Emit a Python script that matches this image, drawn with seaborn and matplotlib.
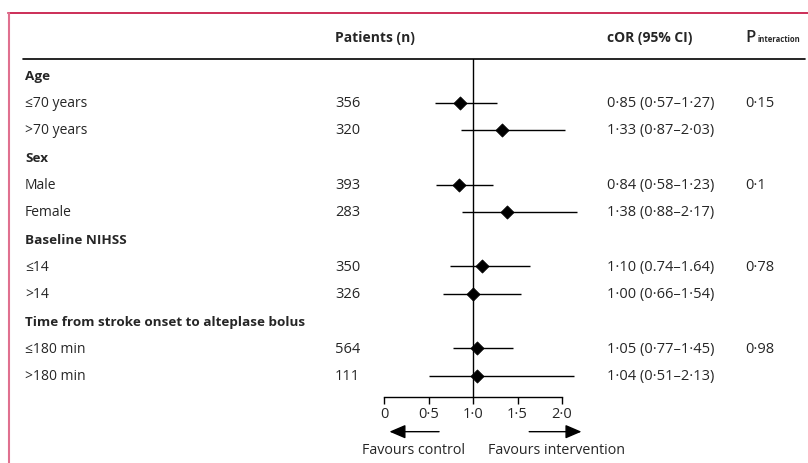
import numpy as np
import pandas as pd
import seaborn as sns
import matplotlib.pyplot as plt
from matplotlib.lines import Line2D
from matplotlib.transforms import blended_transform_factory

# data
groups = ["Age", "Sex", "Baseline NIHSS", "Time from stroke onset to alteplase bolus"]
subgroups = ["≤70 years", ">70 years", "Male", "Female", "≤14", ">14", "≤180 min", ">180 min"]
patients = [356, 320, 393, 283, 350, 326, 564, 111]
cor = [0.85, 1.33, 0.84, 1.38, 1.10, 1.00, 1.05, 1.04]
ci_low = [0.57, 0.87, 0.58, 0.88, 0.74, 0.66, 0.77, 0.51]
ci_high = [1.27, 2.03, 1.23, 2.17, 1.64, 1.54, 1.45, 2.13]
cor_text = ["0·85 (0·57–1·27)", "1·33 (0·87–2·03)", "0·84 (0·58–1·23)", "1·38 (0·88–2·17)",
            "1·10 (0.74–1.64)", "1·00 (0·66–1·54)", "1·05 (0·77–1·45)", "1·04 (0·51–2·13)"]
p_interaction = ["0·15", "0·1", "0·78", "0·98"]
tick_values = [0, 0.5, 1.0, 1.5, 2.0]
tick_labels = ["0", "0·5", "1·0", "1·5", "2·0"]

sns.set_theme(style="white")
plt.rcParams["font.family"] = ["Open Sans", "DejaVu Sans"]
FS = 10       # row labels
FS_B = 9.7    # bold headings
FS_NUM = 10.5 # numbers

group_rows = [3 * g for g in range(len(groups))]
sub_rows = [3 * (i // 2) + 1 + i % 2 for i in range(len(subgroups))]
df = pd.DataFrame({"label": subgroups, "row": sub_rows, "n": patients, "cor": cor,
                   "lo": ci_low, "hi": ci_high, "txt": cor_text})

W, H = 808, 464
fig = plt.figure(figsize=(W / 100, H / 100), dpi=100)
ax = fig.add_axes([370 / W, 1 - 398 / H, 230 / W, (398 - 60) / H])

ax.hlines(df["row"], df["lo"], df["hi"], color="black", lw=1.0, zorder=2)
sns.scatterplot(data=df, x="cor", y="row", marker="D", color="black", edgecolor="black",
                s=45, ax=ax, zorder=3, legend=False)
ax.axvline(1, color="black", lw=1.0, zorder=1)

ax.set_xlim(-(384 - 370) / 89, (600 - 384) / 89)
ax.set_ylim(11.78, -0.6)
ax.set_yticks([])
ax.set_xlabel("")
ax.set_ylabel("")
for s in ["left", "top", "right"]:
    ax.spines[s].set_visible(False)
ax.spines["bottom"].set_bounds(0, 2)
ax.spines["bottom"].set_color("black")
ax.spines["bottom"].set_linewidth(1.0)
ax.set_xticks(tick_values)
ax.set_xticklabels(tick_labels, fontsize=FS_NUM)
ax.tick_params(axis="x", direction="out", length=5, width=1.0, color="black", pad=1.5,
               bottom=True)

tr = blended_transform_factory(fig.transFigure, ax.transData)
x_lab, x_n, x_cor, x_p = 25 / W, 335 / W, 607 / W, 745 / W

# header
ax.text(x_n, -1.4, "Patients (n)", transform=tr, fontsize=FS, fontweight="bold", va="center")
ax.text(x_cor, -1.4, "cOR (95% CI)", transform=tr, fontsize=FS, fontweight="bold", va="center")
ax.text(x_p, -1.42, "P", transform=tr, fontsize=12, fontweight="semibold", va="center")
ax.text(x_p + 13 / W, -1.35, "interaction", transform=tr, fontsize=5.5, fontweight="bold", va="center")

for g, r, p in zip(groups, group_rows, p_interaction):
    ax.text(x_lab, r, g, transform=tr, fontsize=FS_B, fontweight="bold", va="center")
    ax.text(x_p, r + 1, p, transform=tr, fontsize=FS_NUM, va="center")
for _, row in df.iterrows():
    ax.text(x_lab, row["row"], row["label"], transform=tr, fontsize=FS, va="center")
    ax.text(x_n, row["row"], str(row["n"]), transform=tr, fontsize=FS_NUM, va="center")
    ax.text(x_cor, row["row"], row["txt"], transform=tr, fontsize=FS_NUM, va="center")

# favours arrows
arrow = dict(arrowstyle="-|>,head_length=0.7,head_width=0.3", color="black", lw=1.0,
             mutation_scale=14)
ax.annotate("", xy=(0.03, 13.05), xytext=(0.65, 13.05), arrowprops=arrow, annotation_clip=False)
ax.annotate("", xy=(2.25, 13.05), xytext=(1.6, 13.05), arrowprops=arrow, annotation_clip=False)
ax.text(0.33, 13.7, "Favours control", fontsize=10.3, ha="center", va="center")
ax.text(1.94, 13.7, "Favours intervention", fontsize=10.3, ha="center", va="center")

# header rule and frame
fig.add_artist(Line2D([23 / W, 805 / W], [1 - 60 / H] * 2, color="black", lw=1.2))
fig.add_artist(Line2D([8 / W, 1], [1 - 14 / H] * 2, color="#c81d4a", lw=1.3))
fig.add_artist(Line2D([8.5 / W] * 2, [0, 1 - 14 / H], color="#e0708f", lw=1.5))

fig.savefig("out.png", dpi=100)
